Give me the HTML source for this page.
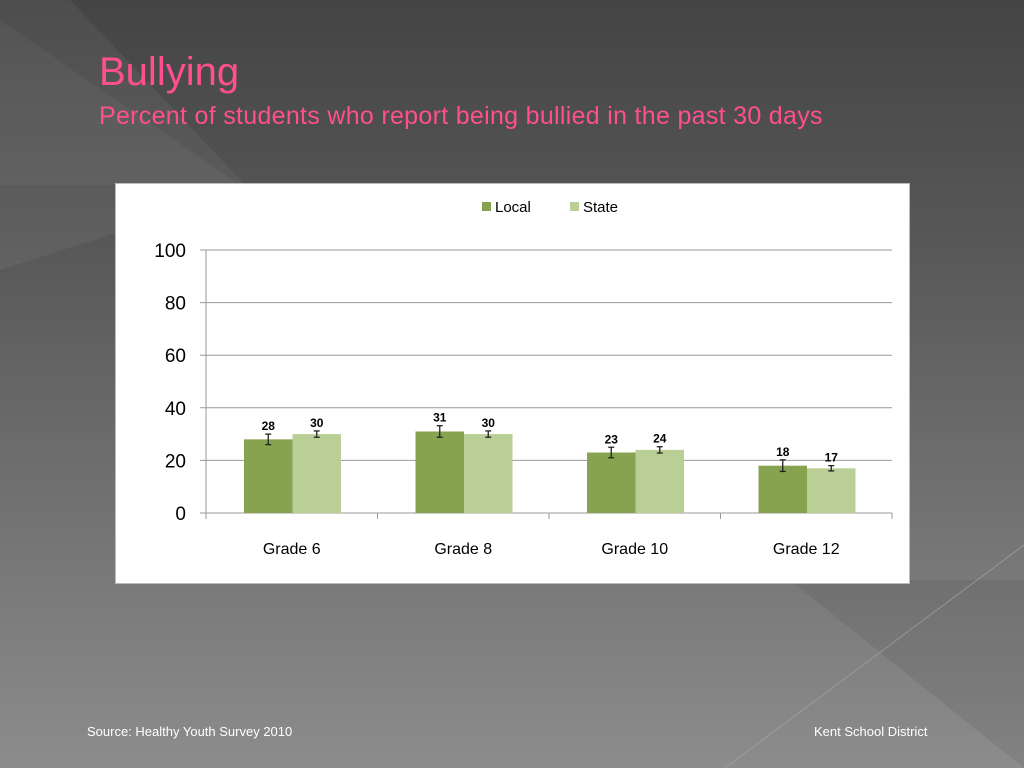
<!DOCTYPE html>
<html><head><meta charset="utf-8"><style>
body{margin:0;width:1024px;height:768px;overflow:hidden;font-family:"Liberation Sans",sans-serif;}
#bg{position:absolute;left:0;top:0}
.t{position:absolute;color:#ff4f8e;white-space:nowrap}
</style></head><body>
<svg id="bg" width="1024" height="768">
<defs><linearGradient id="g" x1="0" y1="0" x2="0" y2="1"><stop offset="0" stop-color="#444"/><stop offset="0.35" stop-color="#5a5a5a"/><stop offset="1" stop-color="#8c8c8c"/></linearGradient></defs>
<rect width="1024" height="768" fill="url(#g)"/>
<polygon points="0,0 0,270 250,190 70,0" fill="#ffffff" opacity="0.05"/>
<polygon points="0,20 240,185 0,185" fill="#ffffff" opacity="0.04"/>
<polygon points="790,580 1024,580 1024,768" fill="#000" opacity="0.07"/>
<line x1="1024" y1="545" x2="725" y2="768" stroke="#aaa" stroke-width="1" opacity="0.6"/>
</svg>
<div class="t" style="left:99px;top:50px;font-size:40px;">Bullying</div>
<div class="t" style="left:99px;top:102px;font-size:25px;letter-spacing:0.3px">Percent of students who report being bullied in the past 30 days</div>
<svg id="chart" style="position:absolute;left:0;top:0" width="1024" height="768"></svg>
<div style="position:absolute;left:87px;top:724px;color:#fff;font-size:13px">Source: Healthy Youth Survey 2010</div>
<div style="position:absolute;left:814px;top:724px;color:#fff;font-size:13px">Kent School District</div>
<script>
const categories=["Grade 6","Grade 8","Grade 10","Grade 12"];
const localValues=[28,31,23,18];
const stateValues=[30,30,24,17];
const localErr=[2,2.2,2,2.2];
const stateErr=[1.2,1.2,1.2,1];
const yTicks=[0,20,40,60,80,100];
const NS="http://www.w3.org/2000/svg";
const svg=document.getElementById('chart');
function mk(t,a,p){const e=document.createElementNS(NS,t);for(const k in a)e.setAttribute(k,a[k]);(p||svg).appendChild(e);return e;}
const X0=206,X1=892,Y0=513,Y1=250;
const y=v=>Y0-(v/100)*(Y0-Y1);
const cw=(X1-X0)/categories.length;
const box=mk('rect',{x:115.5,y:183.5,width:794,height:400,fill:'#fff',stroke:'#bbb'});


yTicks.forEach(v=>{
 const l=mk('line',{x1:X0-6,x2:X1,y1:y(v),y2:y(v),stroke:'#999','stroke-width':1});
 
 
 const t=mk('text',{x:186,y:y(v)+7,'text-anchor':'end','font-size':19,fill:'#000'});t.textContent=v;
 
 
});
mk('line',{x1:X0,x2:X0,y1:Y1,y2:Y0,stroke:'#999'});
for(let i=0;i<=categories.length;i++){mk('line',{x1:X0+i*cw,x2:X0+i*cw,y1:Y0,y2:Y0+6,stroke:'#999'});}
const bw=48.5;
function bar(cx,v,e,col,name){
 const r=mk('rect',{x:cx,y:y(v),width:bw,height:Y0-y(v),fill:col});
 
 
 const mx=cx+bw/2;
 mk('line',{x1:mx,x2:mx,y1:y(v+e),y2:y(v-e),stroke:'#222','stroke-width':1.3});
 mk('line',{x1:mx-3,x2:mx+3,y1:y(v+e),y2:y(v+e),stroke:'#222','stroke-width':1.3});
 mk('line',{x1:mx-3,x2:mx+3,y1:y(v-e),y2:y(v-e),stroke:'#222','stroke-width':1.3});
 const t=mk('text',{x:mx,y:y(v+e)-4,'text-anchor':'middle','font-size':12,'font-weight':'bold',fill:'#000'});t.textContent=v;
 
 
}
categories.forEach((c,i)=>{
 const s=X0+i*cw+38;
 bar(s,localValues[i],localErr[i],'#87a34f','bar-local-'+i);
 bar(s+bw,stateValues[i],stateErr[i],'#b9cf95','bar-state-'+i);
 const t=mk('text',{x:X0+i*cw+cw/2,y:554,'text-anchor':'middle','font-size':16,fill:'#000'});t.textContent=c;
 
 
});
[["Local",482,'#87a34f'],["State",570,'#b9cf95']].forEach(([n,x,c])=>{
 const g=mk('g',{});
 
 
 mk('rect',{x:x,y:202,width:9,height:9,fill:c},g);
 const t=mk('text',{x:x+13,y:212,'font-size':15,fill:'#000'},g);t.textContent=n;
});
</script>
</body></html>
